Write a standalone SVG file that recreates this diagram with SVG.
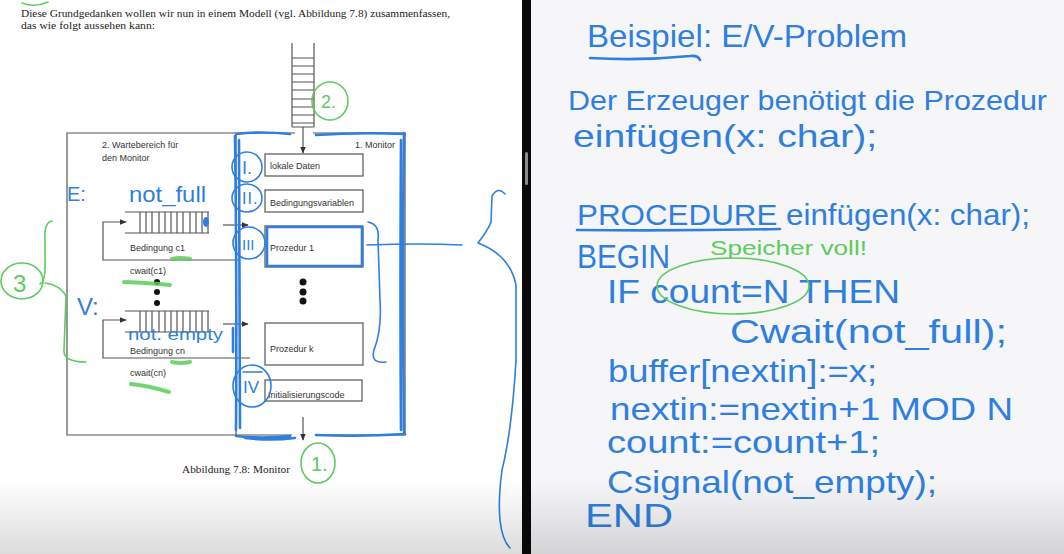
<svg xmlns="http://www.w3.org/2000/svg" width="1064" height="554" viewBox="0 0 1064 554">
<defs>
<style>
.doc{font-family:"Liberation Serif","Times New Roman",serif;font-size:11px;fill:#222}
.lbl{font-family:"Liberation Sans",Arial,sans-serif;font-size:9px;fill:#333}
.ln{stroke:#555;stroke-width:1.2;fill:none}
.box{stroke:#555;stroke-width:1.2;fill:#fff}
.bl{stroke:#2e7fe0;stroke-width:2.6;fill:none;stroke-linecap:round;stroke-linejoin:round}
.bt{stroke:#2e7fe0;stroke-width:1.6;fill:none;stroke-linecap:round}
.gr{stroke:#5ccc5c;stroke-width:1.6;fill:none;stroke-linecap:round}
.grk{stroke:#5ccc5c;stroke-width:4;fill:none;stroke-linecap:round;opacity:0.85}
.hw{font-family:"Liberation Sans",Arial,sans-serif;fill:#2e7fe0}
.hg{font-family:"Liberation Sans",Arial,sans-serif;fill:#5ccc5c}
</style>
<marker id="ah" viewBox="0 0 10 10" refX="9" refY="5" markerWidth="7" markerHeight="7" orient="auto" markerUnits="userSpaceOnUse"><path d="M0,1 L10,5 L0,9 z" fill="#333"/></marker>
<linearGradient id="shade" x1="0" y1="0" x2="0" y2="1"><stop offset="0" stop-color="#000" stop-opacity="0"/><stop offset="1" stop-color="#000" stop-opacity="0.14"/></linearGradient>
</defs>

<!-- backgrounds -->
<rect x="0" y="0" width="522" height="554" fill="#ffffff"/>
<rect x="531" y="0" width="533" height="554" fill="#f6f6f8"/>
<rect x="522" y="0" width="9" height="554" fill="#0a0a0a"/>
<rect x="525" y="152" width="3" height="33" rx="1.5" fill="#8a8a8a"/>

<!-- left page: book text -->
<g id="booktext">
<text class="doc" x="21" y="17" textLength="429" lengthAdjust="spacingAndGlyphs">Diese Grundgedanken wollen wir nun in einem Modell (vgl. Abbildung 7.8) zusammenfassen,</text>
<text class="doc" x="21" y="29" textLength="134" lengthAdjust="spacingAndGlyphs">das wie folgt aussehen kann:</text>
<text class="doc" x="182" y="473" textLength="108" lengthAdjust="spacingAndGlyphs">Abbildung 7.8: Monitor</text>
</g>

<!-- entry ladder -->
<g id="ladder">
<path class="ln" d="M292,43 V127 M314,43 V127 M292,58 H314 M292,66 H314 M292,74 H314 M292,82 H314 M292,90 H314 M292,99 H314 M292,107 H314 M292,115 H314 M292,123 H314 M292,127 H314"/>
</g>

<!-- outer box / monitor frame -->
<g id="frame">
<path class="ln" d="M295,133 H67 V435 H292 M315,435 H405 V133 H313"/>
<path class="ln" d="M236,133 V435"/>
<text class="lbl" x="102" y="148">2. Wartebereich für</text>
<text class="lbl" x="102" y="161">den Monitor</text>
<text class="lbl" x="355" y="148">1. Monitor</text>
</g>

<!-- monitor boxes -->
<g id="lokale-daten"><rect class="box" x="265" y="154" width="98" height="22"/><text class="lbl" x="270" y="169">lokale Daten</text></g>
<g id="bedingungsvariablen"><rect class="box" x="265" y="190" width="98" height="22"/><text class="lbl" x="270" y="206">Bedingungsvariablen</text></g>
<g id="prozedur-1"><rect class="box" x="265" y="226" width="98" height="41"/><text class="lbl" x="270" y="251">Prozedur 1</text></g>
<g id="dots-monitor" fill="#111"><circle cx="303" cy="282" r="3.5"/><circle cx="303" cy="292" r="3.5"/><circle cx="303" cy="301" r="3.5"/></g>
<g id="prozedur-k"><rect class="box" x="265" y="323" width="98" height="42"/><text class="lbl" x="270" y="352">Prozedur k</text></g>
<g id="init"><rect class="box" x="265" y="380" width="97" height="21"/><text class="lbl" x="268" y="398">Initialisierungscode</text></g>

<!-- queues -->
<g id="queue-c1">
<path class="ln" d="M125,212 H209 M125,233 H209 M140,212 V233 M146,212 V233 M152,212 V233 M159,212 V233 M165,212 V233 M171,212 V233 M177,212 V233 M183,212 V233 M190,212 V233 M196,212 V233 M202,212 V233 M208,212 V233"/>
<text class="lbl" x="130" y="251">Bedingung c1</text>
<text class="lbl" x="130" y="274">cwait(c1)</text>
</g>
<g id="dots-queue" fill="#111"><circle cx="157" cy="282" r="3"/><circle cx="157" cy="292" r="3"/><circle cx="157" cy="303" r="3"/></g>
<g id="queue-cn">
<path class="ln" d="M125,311 H209 M125,332 H209 M140,311 V332 M146,311 V332 M152,311 V332 M159,311 V332 M165,311 V332 M171,311 V332 M177,311 V332 M183,311 V332 M190,311 V332 M196,311 V332 M202,311 V332 M208,311 V332"/>
<text class="lbl" x="130" y="354">Bedingung cn</text>
<text class="lbl" x="130" y="376">cwait(cn)</text>
</g>

<!-- connectors -->
<g id="connectors">
<path class="ln" d="M303,127 V153" marker-end="url(#ah)"/>
<path class="ln" d="M303,417 V440" marker-end="url(#ah)"/>
<path class="ln" d="M240,260 H103 V222 H126" marker-end="url(#ah)"/>
<path class="ln" d="M223,225 H248" marker-end="url(#ah)"/>
<path class="ln" d="M250,358 H103 V320 H126" marker-end="url(#ah)"/>
<path class="ln" d="M223,324 H248" marker-end="url(#ah)"/>
</g>

<!-- blue annotations left -->
<g id="blue-annotations">
<path class="bl" d="M236,134 Q260,131 290,134 M316,135 Q360,132 405,134 M235,136 Q237,280 236,430 M239,140 Q240,300 240,428 M404,133 Q402,280 404,434 M401,140 Q400,300 401,430 M236,436 Q262,439 290,436 M316,435 Q360,437 405,434 M245,438 Q270,441 295,438"/>
<path class="bl" d="M267,227 H362 V266 H267 Z" stroke-width="2"/>
<ellipse class="bt" cx="247" cy="167" rx="15" ry="15"/>
<ellipse class="bt" cx="247" cy="198" rx="15" ry="14"/>
<ellipse class="bt" cx="249" cy="243" rx="16" ry="16"/>
<ellipse class="bt" cx="252" cy="386" rx="19" ry="21"/>
<text class="hw" x="242" y="174" font-size="18">I.</text>
<text class="hw" x="242" y="204" font-size="16" letter-spacing="1">II.</text>
<text class="hw" x="242" y="250" font-size="15">III</text>
<text class="hw" x="243" y="393" font-size="17">IV</text>
<path class="bt" d="M243,372 H262"/>
<path class="bt" d="M368,222 Q380,224 378,240 L380,300 Q382,330 374,350 Q370,364 386,362"/>
<path class="bt" d="M367,245 Q420,243 462,245"/>
<path class="bt" d="M505,194 Q498,186 492,196 L491,222 Q488,230 478,243 M478,243 Q510,255 516,285 L516,360 Q512,430 502,470 Q498,500 500,520 Q502,540 510,548"/>
<text class="hw" x="67" y="201" font-size="20">E:</text>
<text class="hw" x="129" y="202" font-size="22" textLength="77" lengthAdjust="spacingAndGlyphs">not_full</text>
<ellipse cx="206" cy="222" rx="3" ry="5" fill="#2e7fe0"/>
<text class="hw" x="77" y="315" font-size="24">V:</text>
<text class="hw" x="128" y="340" font-size="16" textLength="95" lengthAdjust="spacingAndGlyphs">not. empty</text>
<path class="bl" d="M233,328 V352" stroke-width="2.2"/>
</g>

<!-- green annotations left -->
<g id="green-annotations">
<ellipse class="gr" cx="330" cy="101" rx="18" ry="19"/>
<text class="hg" x="321" y="108" font-size="18">2.</text>
<ellipse class="gr" cx="318" cy="463" rx="17" ry="20"/>
<text class="hg" x="311" y="471" font-size="20">1.</text>
<ellipse class="gr" cx="22" cy="281" rx="21" ry="18"/>
<text class="hg" x="13" y="292" font-size="24">3</text>
<path class="gr" d="M52,221 Q44,222 45,240 L45,272 Q44,282 40,284 M45,283 Q60,285 66,296 L64,350 Q63,362 86,362"/>
<path class="gr" d="M22,3 Q35,8 48,2"/>
<path class="grk" d="M124,282 Q150,283 170,285"/>
<path class="grk" d="M172,259 Q180,257 190,259"/>
<path class="grk" d="M172,362 Q180,364 190,362"/>
<path class="grk" d="M131,384 Q150,386 169,392"/>
</g>

<!-- right pane: handwritten notes -->
<g id="notes">
<text class="hw" x="587" y="47" font-size="32" textLength="320" lengthAdjust="spacingAndGlyphs">Beispiel: E/V-Problem</text>
<path class="bl" d="M590,58 Q640,61 690,56 Q698,55 700,60"/>
<text class="hw" x="568" y="110" font-size="28" textLength="479" lengthAdjust="spacingAndGlyphs">Der Erzeuger benötigt die Prozedur</text>
<text class="hw" x="573" y="147" font-size="32" textLength="304" lengthAdjust="spacingAndGlyphs">einfügen(x: char);</text>
<text class="hw" x="577" y="225" font-size="30" textLength="453" lengthAdjust="spacingAndGlyphs">PROCEDURE einfügen(x: char);</text>
<path class="bl" d="M577,230 Q680,231 780,229"/>
<text class="hw" x="577" y="268" font-size="34" textLength="93" lengthAdjust="spacingAndGlyphs">BEGIN</text>
<text class="hg" x="710" y="255" font-size="20" textLength="157" lengthAdjust="spacingAndGlyphs">Speicher voll!</text>
<text class="hw" x="607" y="303" font-size="34" textLength="293" lengthAdjust="spacingAndGlyphs">IF count=N THEN</text>
<ellipse class="gr" cx="733" cy="286" rx="76" ry="28" stroke-width="2"/>
<text class="hw" x="730" y="343" font-size="34" textLength="277" lengthAdjust="spacingAndGlyphs">Cwait(not_full);</text>
<text class="hw" x="608" y="382" font-size="32" textLength="269" lengthAdjust="spacingAndGlyphs">buffer[nextin]:=x;</text>
<text class="hw" x="610" y="420" font-size="32" textLength="403" lengthAdjust="spacingAndGlyphs">nextin:=nextin+1 MOD N</text>
<text class="hw" x="607" y="453" font-size="32" textLength="273" lengthAdjust="spacingAndGlyphs">count:=count+1;</text>
<text class="hw" x="607" y="493" font-size="32" textLength="330" lengthAdjust="spacingAndGlyphs">Csignal(not_empty);</text>
<text class="hw" x="585" y="527" font-size="34" textLength="88" lengthAdjust="spacingAndGlyphs">END</text>
</g>

<!-- bottom shading of the screenshot -->
<rect x="0" y="480" width="1064" height="74" fill="url(#shade)"/>
</svg>
